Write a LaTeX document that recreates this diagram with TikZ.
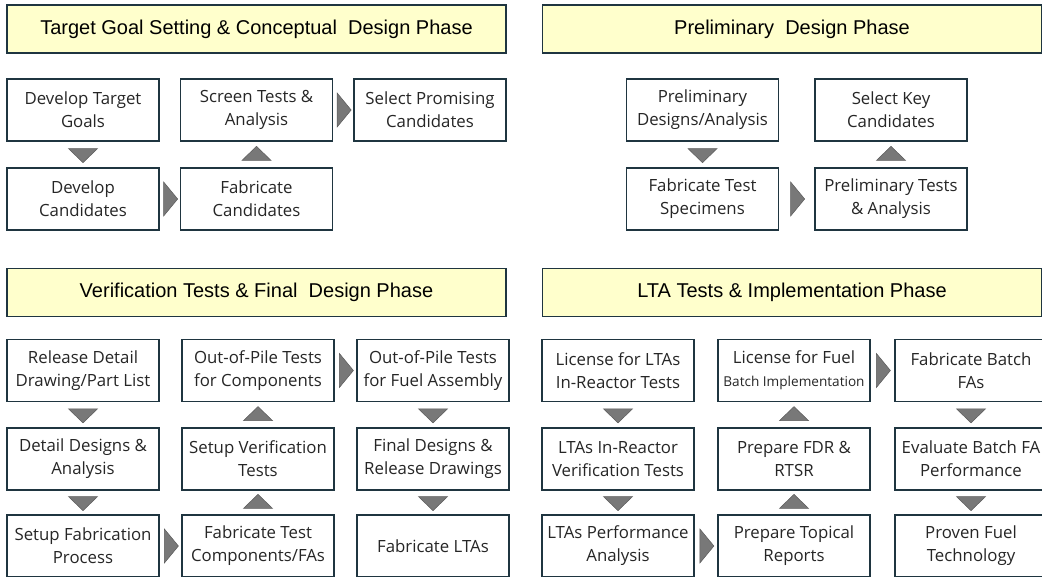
\documentclass[tikz,border=0pt]{standalone}
\usepackage{fontspec}
\setmainfont{Liberation Sans}
\newfontfamily\boxfont{Open Sans}
\usetikzlibrary{shapes.geometric}
\definecolor{boxedge}{HTML}{1F3540}
\definecolor{phasefill}{HTML}{FFFFCC}
\definecolor{trifill}{HTML}{787878}
\definecolor{triedge}{HTML}{5A5A5A}
\tikzset{
  box/.style={draw=boxedge, line width=1.6pt, fill=white, minimum width=152pt,
    minimum height=62pt, inner sep=0pt, align=center,
    font=\boxfont\fontsize{16.8}{23}\selectfont, text=black!85},
  phase/.style={draw=boxedge, line width=1.8pt, fill=phasefill, minimum width=499pt,
    minimum height=48pt, inner sep=0pt, font=\fontsize{20}{22}\selectfont},
  tri/.style={isosceles triangle, isosceles triangle stretches, fill=trifill,
    draw=triedge, line width=0.5pt, inner sep=0pt},
  dtri/.style={tri, shape border rotate=-90, minimum width=29pt, minimum height=14pt},
  utri/.style={tri, shape border rotate=90, minimum width=29pt, minimum height=14pt},
  rtri/.style={tri, minimum width=34pt, minimum height=14pt},
}
\begin{document}
\begin{tikzpicture}[x=1pt, y=-1pt]
    \useasboundingbox (0,0) rectangle (1042,577);
    % phase headers
    \node[phase] (concept) at (256.5,29) {Target Goal Setting \& Conceptual\ \ Design Phase};
    \node[phase] (prelim) at (792,29) {Preliminary\ \ Design Phase};
    \node[phase] (verify) at (256.5,292.5) {Verification Tests \& Final\ \ Design Phase};
    \node[phase] (lta) at (792,292.5) {LTA Tests \& Implementation Phase};

    % conceptual design
    \node[box] (goals) at (83,110) {Develop Target\\Goals};
    \node[box] (screen) at (256.5,110) {Screen Tests \&\\Analysis};
    \node[box] (promising) at (430,110) {Select Promising\\Candidates};
    \node[box] (devcand) at (83,199) {Develop\\Candidates};
    \node[box] (fabcand) at (256.5,199) {Fabricate\\Candidates};
    \path (goals) -- node[dtri] {} (devcand);
    \path (devcand) -- node[rtri] {} (fabcand);
    \path (fabcand) -- node[utri] {} (screen);
    \path (screen) -- node[rtri] {} (promising);

    % preliminary design
    \node[box] (predesign) at (702.5,110) {Preliminary\\Designs/Analysis};
    \node[box] (keycand) at (891,110) {Select Key\\Candidates};
    \node[box] (specimen) at (702.5,199) {Fabricate Test\\Specimens};
    \node[box] (pretest) at (891,199) {Preliminary Tests\\\& Analysis};
    \path (predesign) -- node[dtri] {} (specimen);
    \path (specimen) -- node[rtri] {} (pretest);
    \path (pretest) -- node[utri] {} (keycand);

    % verification & final design
    \node[box] (release) at (83,370.5) {Release Detail\\Drawing/Part List};
    \node[box] (detail) at (83,459) {Detail Designs \&\\Analysis};
    \node[box] (setupfab) at (83,546) {Setup Fabrication\\Process};
    \node[box] (fabtest) at (258,546) {Fabricate Test\\Components/FAs};
    \node[box] (setupver) at (258,459) {Setup Verification\\Tests};
    \node[box] (oopcomp) at (258,370.5) {Out-of-Pile Tests\\for Components};
    \node[box] (oopfa) at (433,370.5) {Out-of-Pile Tests\\for Fuel Assembly};
    \node[box] (final) at (433,459) {Final Designs \&\\Release Drawings};
    \node[box] (fablta) at (433,546) {Fabricate LTAs};
    \path (release) -- node[dtri] {} (detail);
    \path (detail) -- node[dtri] {} (setupfab);
    \path (setupfab) -- node[rtri] {} (fabtest);
    \path (fabtest) -- node[utri] {} (setupver);
    \path (setupver) -- node[utri] {} (oopcomp);
    \path (oopcomp) -- node[rtri] {} (oopfa);
    \path (oopfa) -- node[dtri] {} (final);
    \path (final) -- node[dtri] {} (fablta);

    % LTA tests & implementation
    \node[box] (ltalic) at (618,370.5) {License for LTAs\\In-Reactor Tests};
    \node[box] (ltaver) at (618,459) {LTAs In-Reactor\\Verification Tests};
    \node[box] (ltaperf) at (618,546) {LTAs Performance\\Analysis};
    \node[box] (topical) at (794,546) {Prepare Topical\\Reports};
    \node[box] (fdr) at (794,459) {Prepare FDR \&\\RTSR};
    \node[box] (fuellic) at (794,370.5) {License for Fuel\\{\fontsize{13.6}{20}\selectfont Batch Implementation}};
    \node[box] (batchfa) at (971,370.5) {Fabricate Batch\\FAs};
    \node[box] (evalfa) at (971,459) {Evaluate Batch FA\\Performance};
    \node[box] (proven) at (971,546) {Proven Fuel\\Technology};
    \path (ltalic) -- node[dtri] {} (ltaver);
    \path (ltaver) -- node[dtri] {} (ltaperf);
    \path (ltaperf) -- node[rtri] {} (topical);
    \path (topical) -- node[utri] {} (fdr);
    \path (fdr) -- node[utri] {} (fuellic);
    \path (fuellic) -- node[rtri] {} (batchfa);
    \path (batchfa) -- node[dtri] {} (evalfa);
    \path (evalfa) -- node[dtri] {} (proven);
\end{tikzpicture}
\end{document}
